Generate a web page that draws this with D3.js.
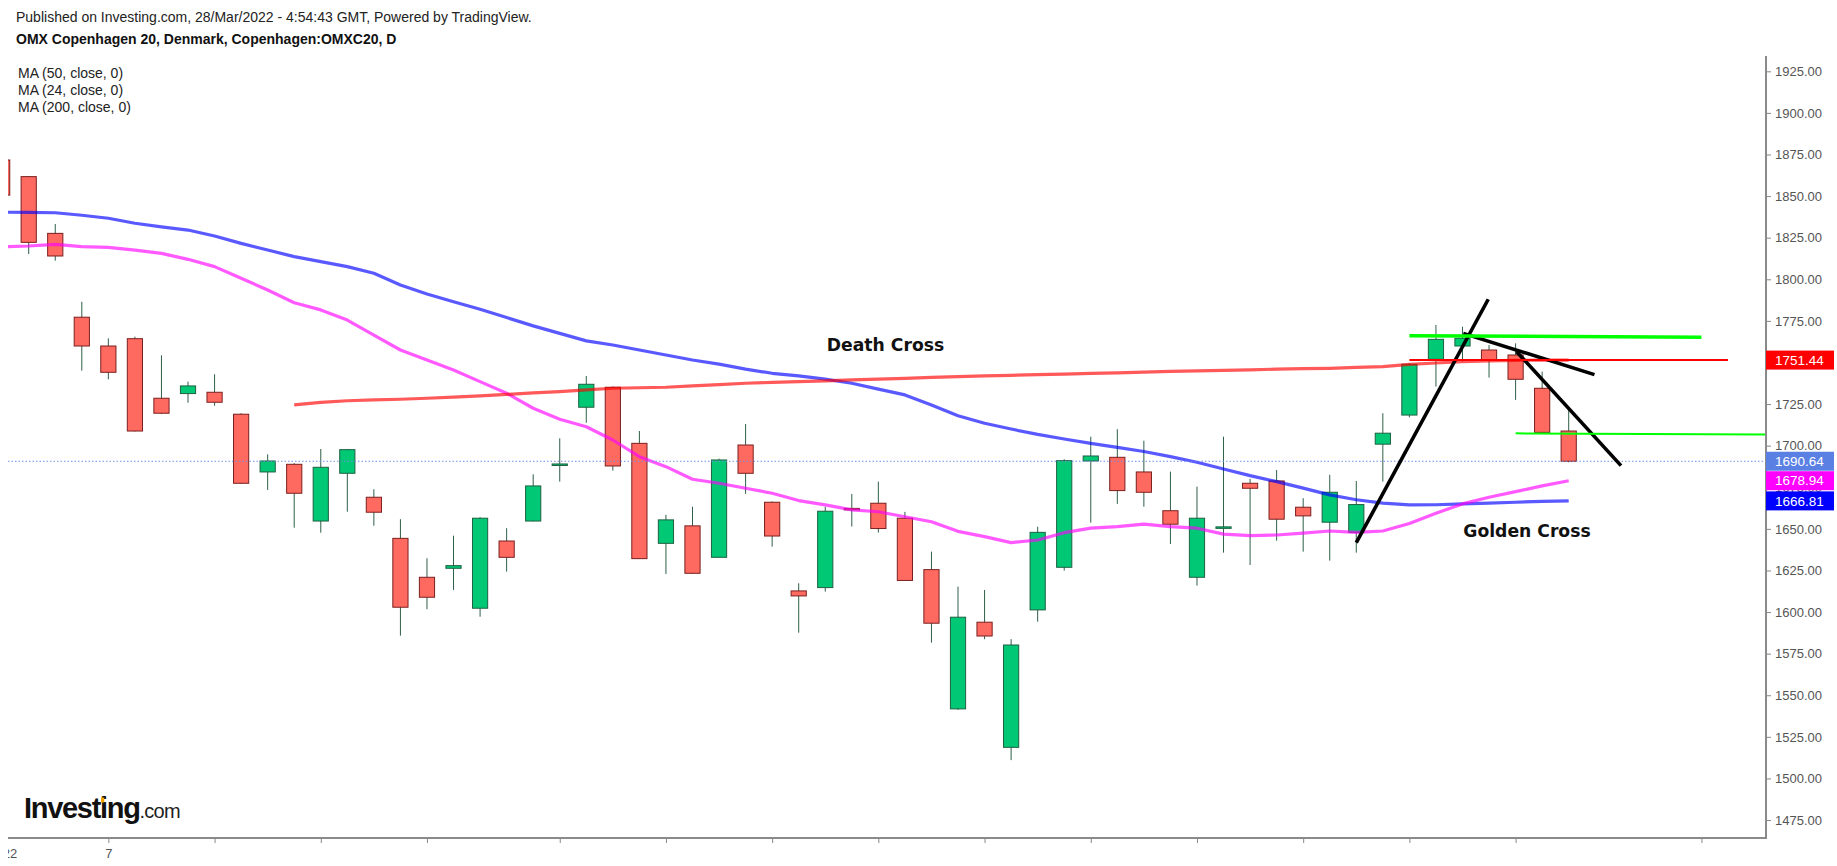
<!DOCTYPE html>
<html>
<head>
<meta charset="utf-8">
<script src="https://cdn.jsdelivr.net/npm/d3@7"></script>
<style>
  body { margin: 0; background: #fff; }
  svg { display: block; font-family: "Liberation Sans", Arial, sans-serif; }
</style>
</head>
<body>
<svg id="chart" width="1837" height="866"></svg>
<script>
// OMXC20 daily candles, 3 Jan 2022 (index 0) .. 25 Mar 2022 (index 59)
const opens  = [1871.7,1861.7,1827.6,1777.2,1759.9,1764.3,1728.5,1731.3,1732.1,1718.9,
                 1684.2,1688.8,1654.7,1683.4,1669.0,1644.3,1620.9,1626.3,1602.3,1642.7,
                 1654.7,1688.5,1723.1,1735.1,1701.4,1641.3,1651.8,1632.9,1700.4,1666.0,
                 1612.7,1614.7,1662.3,1665.4,1656.4,1625.5,1541.8,1593.9,1518.7,1601.3,
                 1626.9,1690.8,1693.0,1684.2,1660.9,1620.9,1651.0,1677.4,1678.8,1663.0,
                 1654.0,1647.9,1700.9,1718.4,1751.9,1759.9,1757.5,1754.5,1734.5,1708.8];
const highs  = [1873.0,1862.0,1833.2,1786.5,1764.5,1765.5,1754.3,1738.5,1742.9,1719.5,
                 1694.8,1689.5,1698.0,1698.0,1673.8,1655.8,1632.3,1645.9,1657.0,1650.4,
                 1682.8,1704.4,1741.9,1735.5,1708.8,1658.4,1663.3,1692.2,1713.0,1666.5,
                 1617.3,1663.3,1671.0,1678.4,1660.2,1636.3,1615.3,1613.3,1583.7,1651.3,
                 1691.8,1705.4,1709.9,1703.0,1684.4,1675.4,1705.4,1680.0,1685.4,1668.4,
                 1682.5,1678.8,1719.5,1749.5,1772.5,1771.5,1760.5,1761.5,1744.5,1721.5];
const lows   = [1849.0,1815.2,1811.2,1745.1,1739.9,1708.5,1719.0,1725.8,1724.0,1677.0,
                 1673.4,1650.7,1647.7,1660.3,1651.9,1585.8,1601.7,1613.3,1597.2,1624.3,
                 1654.5,1678.4,1713.8,1685.0,1632.0,1622.9,1623.0,1632.9,1671.0,1639.3,
                 1587.6,1612.3,1651.4,1647.8,1618.8,1581.6,1541.2,1583.7,1511.0,1594.2,
                 1624.9,1653.7,1665.0,1663.3,1640.9,1615.9,1635.7,1628.3,1642.9,1636.3,
                 1630.9,1635.7,1678.4,1717.0,1735.5,1750.5,1740.9,1727.5,1708.0,1690.0];
const closes = [1850.6,1822.2,1814.0,1759.9,1744.1,1708.8,1719.5,1735.9,1726.1,1677.4,
                 1690.8,1671.4,1687.0,1697.6,1660.0,1602.9,1608.9,1627.9,1656.4,1632.9,
                 1675.8,1689.0,1736.9,1687.8,1632.1,1655.4,1623.3,1691.4,1683.4,1645.7,
                 1609.7,1660.6,1661.6,1650.2,1619.0,1593.3,1596.9,1585.6,1580.2,1647.9,
                 1691.0,1693.8,1673.0,1672.0,1652.8,1656.4,1651.2,1674.4,1655.8,1657.8,
                 1672.0,1664.6,1707.5,1748.9,1763.9,1764.5,1751.5,1739.9,1708.0,1690.64];

// moving averages
const ma50 = [1840.3,1840.2,1840.0,1838.5,1836.7,1833.7,1831.5,1829.6,1826.0,1821.6,
              1817.6,1813.6,1810.6,1807.6,1803.6,1796.6,1791.2,1786.5,1782.0,1777.0,
              1772.0,1767.5,1763.0,1760.5,1757.5,1754.5,1751.5,1749.0,1746.0,1743.5,
              1742.0,1740.0,1737.5,1734.0,1730.5,1724.5,1718.0,1713.5,1710.0,1706.8,
              1704.0,1701.4,1699.0,1696.5,1693.4,1690.0,1686.0,1682.0,1678.4,1674.5,
              1670.4,1667.5,1665.5,1664.4,1664.5,1665.0,1665.5,1666.0,1666.5,1666.81];
const ma24 = [1819.6,1820.0,1821.0,1819.6,1819.2,1817.5,1815.6,1812.0,1807.6,1800.6,
              1793.6,1785.9,1781.6,1775.5,1766.5,1757.5,1751.5,1745.5,1738.5,1731.5,
              1722.5,1715.9,1711.4,1703.4,1693.4,1687.4,1679.8,1677.4,1674.4,1671.4,
              1667.0,1664.4,1661.4,1660.3,1657.3,1654.3,1648.5,1645.3,1641.7,1643.3,
              1647.7,1650.4,1651.3,1652.8,1651.3,1650.4,1646.8,1645.9,1646.3,1647.4,
              1648.7,1647.9,1648.7,1653.2,1659.4,1665.0,1669.0,1672.4,1675.8,1678.94];
const ma200Start = 11;
const ma200 = [1724.5,1726.0,1727.0,1727.5,1727.9,1728.5,1729.2,1729.9,1730.8,1731.7,
               1732.5,1733.5,1734.5,1734.8,1735.1,1735.9,1736.7,1737.5,1738.0,1738.5,
               1739.0,1739.5,1740.0,1740.5,1741.0,1741.5,1742.0,1742.3,1742.7,1743.0,
               1743.4,1743.8,1744.2,1744.6,1745.0,1745.3,1745.6,1746.0,1746.3,1746.5,
               1747.0,1747.5,1748.9,1749.7,1750.5,1751.0,1751.3,1751.4,1751.44];

// axis ticks
const yTicks = [1475,1500,1525,1550,1575,1600,1625,1650,1675,1700,1725,1750,1775,1800,1825,1850,1875,1900,1925];
const xTicks = [0,4,8,12,16,21,25,29,33,37,41,45,49,53,57,64];
const xTickLabels = ["2022","7","","","","","","","","","","","","","",""];

// hand drawn lines: [startIndex, startPrice, endIndex, endPrice]
const drawnLines = [
  [51.0, 1641.7, 55.97, 1788.0],
  [55.03, 1767.5, 59.97, 1742.7],
  [57.04, 1756.5, 60.97, 1688.0],
  [53.0, 1766.1, 64.0, 1765.2],
  [53.0, 1751.5, 65.0, 1751.5],
  [57.0, 1707.4, 67.0, 1706.6]
];
const drawnStyles = [
  {color: "#000", width: 3.6}, {color: "#000", width: 3.6}, {color: "#000", width: 3.6},
  {color: "#00ff00", width: 3.4}, {color: "#ff0000", width: 2}, {color: "#00ff00", width: 2}
];

const notes = [
  {text: "Death Cross", i: 31.06, p: 1757.1},
  {text: "Golden Cross", i: 55.03, p: 1645.3}
];

const priceTags = [1751.44, 1690.64, 1678.94, 1666.81];
const priceTagColors = ["#ff0000", "#5b80e4", "#ff00ff", "#0000ff"];
const lastPrice = 1690.64;

const legend = ["MA (50, close, 0)", "MA (24, close, 0)", "MA (200, close, 0)"];

// layout
const plot = {left: 8, top: 56, right: 1766, bottom: 838};

const svg = d3.select("#chart");

const x = d3.scaleLinear().domain([0, 59]).range([2.15, 1568.7]);
const y = d3.scaleLinear().domain([1464.2, 1934.2]).range([plot.bottom, plot.top]);

svg.append("defs").append("clipPath").attr("id", "plotClip")
  .append("rect")
  .attr("x", plot.left).attr("y", plot.top)
  .attr("width", plot.right - plot.left).attr("height", plot.bottom - plot.top);
svg.select("defs").append("clipPath").attr("id", "xClip")
  .append("rect")
  .attr("x", plot.left).attr("y", plot.bottom - 2)
  .attr("width", plot.right - plot.left).attr("height", 40);

// header texts
svg.append("text").attr("x", 16).attr("y", 22)
  .attr("font-size", 14).attr("fill", "#222")
  .text("Published on Investing.com, 28/Mar/2022 - 4:54:43 GMT, Powered by TradingView.");
svg.append("text").attr("x", 16).attr("y", 44)
  .attr("font-size", 14).attr("font-weight", "bold").attr("fill", "#111")
  .text("OMX Copenhagen 20, Denmark, Copenhagen:OMXC20, D");
svg.append("g").selectAll("text").data(legend).enter().append("text")
  .attr("x", 18).attr("y", (d, i) => 78 + i * 17)
  .attr("font-size", 14).attr("fill", "#222")
  .text(d => d);

const plotG = svg.append("g").attr("clip-path", "url(#plotClip)");

// candles
const candles = d3.range(opens.length).map(i => ({
  i: i, o: opens[i], h: highs[i], l: lows[i], c: closes[i]
}));
const bodyW = 15.2;

const candleG = plotG.append("g").attr("class", "candles");
candleG.selectAll("line").data(candles).enter().append("line")
  .attr("x1", d => x(d.i)).attr("x2", d => x(d.i))
  .attr("y1", d => y(d.h)).attr("y2", d => y(d.l))
  .attr("stroke", "#2f5f48").attr("stroke-width", 1);
candleG.selectAll("rect").data(candles).enter().append("rect")
  .attr("x", d => x(d.i) - bodyW / 2)
  .attr("width", bodyW)
  .attr("y", d => y(Math.max(d.o, d.c)))
  .attr("height", d => Math.max(1.5, Math.abs(y(d.o) - y(d.c))))
  .attr("fill", d => d.c >= d.o ? "#00c875" : "#ff6a60")
  .attr("stroke", d => d.c >= d.o ? "#1d6142" : "#7a1f1f")
  .attr("stroke-width", 1);

// moving averages
const maLine = d3.line().x(d => x(d[0])).y(d => y(d[1]));
const maSets = [
  {pts: ma50.map((v, i) => [i, v]), color: "#0000ff"},
  {pts: ma24.map((v, i) => [i, v]), color: "#ff00ff"},
  {pts: ma200.map((v, i) => [i + ma200Start, v]), color: "#ff0000"}
];
plotG.append("g").selectAll("path").data(maSets).enter().append("path")
  .attr("d", d => maLine(d.pts))
  .attr("fill", "none")
  .attr("stroke", d => d.color)
  .attr("stroke-opacity", 0.65)
  .attr("stroke-width", 3.2)
  .attr("stroke-linejoin", "round");

// last price dotted line
plotG.append("line")
  .attr("x1", plot.left).attr("x2", plot.right)
  .attr("y1", y(lastPrice)).attr("y2", y(lastPrice))
  .attr("stroke", "#6f8fe8").attr("stroke-width", 1.2)
  .attr("stroke-dasharray", "1.5,2");

// drawings
plotG.append("g").selectAll("line").data(drawnLines).enter().append("line")
  .attr("x1", d => x(d[0])).attr("y1", d => y(d[1]))
  .attr("x2", d => x(d[2])).attr("y2", d => y(d[3]))
  .attr("stroke", (d, i) => drawnStyles[i].color)
  .attr("stroke-width", (d, i) => drawnStyles[i].width);

plotG.append("g").selectAll("text").data(notes).enter().append("text")
  .attr("x", d => x(d.i)).attr("y", d => y(d.p))
  .attr("font-family", "'DejaVu Sans', Verdana, sans-serif")
  .attr("font-weight", "bold").attr("font-size", 17.2)
  .attr("fill", "#111")
  .text(d => d.text);

// right axis
const yAxisG = svg.append("g")
  .attr("transform", `translate(${plot.right},0)`)
  .call(d3.axisRight(y).tickValues(yTicks).tickFormat(d3.format(".2f")).tickSize(5).tickPadding(4));
yAxisG.select(".domain").remove();
yAxisG.selectAll(".tick line").attr("stroke", "#888");
yAxisG.selectAll(".tick text")
  .attr("font-family", "'Liberation Sans', Arial, sans-serif")
  .attr("font-size", 13).attr("fill", "#555");
svg.append("line")
  .attr("x1", plot.right).attr("x2", plot.right)
  .attr("y1", plot.top).attr("y2", plot.bottom + 1)
  .attr("stroke", "#8a8a8a").attr("stroke-width", 2);

// bottom axis
const xAxisG = svg.append("g")
  .attr("clip-path", "url(#xClip)")
  .append("g")
  .attr("transform", `translate(0,${plot.bottom})`)
  .call(d3.axisBottom(x).tickValues(xTicks)
    .tickFormat(d => xTickLabels[xTicks.indexOf(d)]).tickSize(5).tickPadding(6));
xAxisG.select(".domain").remove();
xAxisG.selectAll(".tick line").attr("stroke", "#888");
xAxisG.selectAll(".tick text")
  .attr("font-family", "'Liberation Sans', Arial, sans-serif")
  .attr("font-size", 13).attr("fill", "#555");
svg.append("line")
  .attr("x1", plot.left).attr("x2", plot.right + 1)
  .attr("y1", plot.bottom).attr("y2", plot.bottom)
  .attr("stroke", "#8a8a8a").attr("stroke-width", 2);

// price tags on the axis
const tagG = svg.append("g").selectAll("g").data(priceTags).enter().append("g")
  .attr("transform", d => `translate(${plot.right},${y(d)})`);
tagG.append("rect")
  .attr("x", 0).attr("y", -9.5).attr("width", 68).attr("height", 19)
  .attr("fill", (d, i) => priceTagColors[i]);
tagG.append("text")
  .attr("x", 9).attr("dy", "0.35em")
  .attr("font-size", 13.5).attr("fill", "#fff")
  .text(d => d3.format(".2f")(d));

// Investing.com logo
const logo = svg.append("text").attr("x", 24).attr("y", 818);
logo.append("tspan")
  .attr("font-size", 29).attr("font-weight", "bold").attr("letter-spacing", -1.3)
  .attr("fill", "#111").text("Investing");
logo.append("tspan")
  .attr("font-size", 20).attr("letter-spacing", -0.8)
  .attr("fill", "#222").text(".com");
const iBox = logo.node().getExtentOfChar(6);
svg.append("rect")
  .attr("x", iBox.x + 1).attr("y", iBox.y + 5.5)
  .attr("width", iBox.width - 3.5).attr("height", 5)
  .attr("fill", "#f5a300");
</script>
</body>
</html>
